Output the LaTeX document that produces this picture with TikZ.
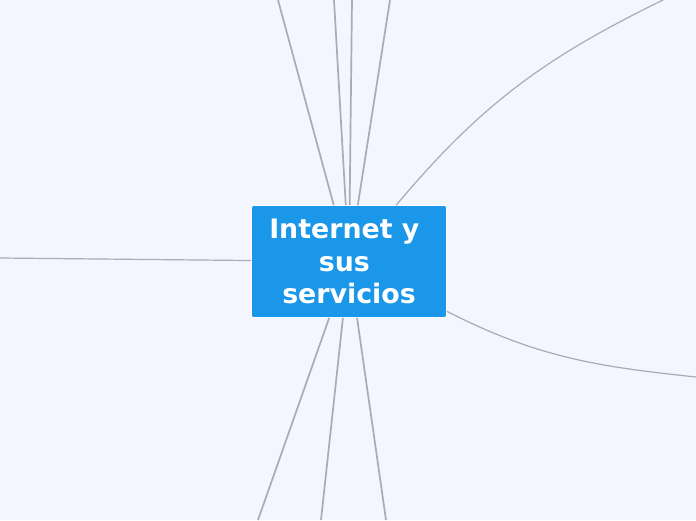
\documentclass[tikz,border=0pt]{standalone}
\usepackage{fontspec}
\usepackage{tikz}
\newfontfamily\mapfont{DejaVu Sans}
\definecolor{paper}{HTML}{F3F6FE}
\definecolor{topicblue}{HTML}{1A97E8}
\definecolor{branch}{HTML}{A9ACB3}

\begin{document}
\begin{tikzpicture}[x=1pt,y=-1pt,style=thick]
\newcommand{\tsp}{\ \null}
\fill[paper] (0,0) rectangle (696,520);
\useasboundingbox (0,0) rectangle (696,520);
\begin{scope}[draw=branch]
% central topic
\node[fill=topicblue,draw=white,line width=0.6pt,rounded corners=2.5pt,
  minimum width=195pt,minimum height=112pt,align=center,text=white,
  font=\mapfont\bfseries\fontsize{26.8}{32.5}\selectfont] (hub) at (349,261.5)
  {Internet y\tsp\\sus\tsp\\servicios};
% free ends on the border
\coordinate (T_1) at (278,0);
\coordinate (T_2) at (334,0);
\coordinate (T_3) at (352,0);
\coordinate (T_4) at (390,0);
\coordinate (TR) at (663,0);
\coordinate (L_1) at (0,258);
\coordinate (R_1) at (696,377);
\coordinate (B_1) at (258,520);
\coordinate (B_2) at (321,520);
\coordinate (B_3) at (386,520);
\draw [line width=1.7pt] (hub) -- (T_1);
\draw [line width=1.7pt] (hub) -- (T_2);
\draw [line width=1.7pt] (hub) -- (T_3);
\draw [line width=1.7pt] (hub) -- (T_4);
\draw [line width=1.7pt] (hub) -- (B_1);
\draw [line width=1.7pt] (hub) -- (B_2);
\draw [line width=1.7pt] (hub) -- (B_3);
\draw [line width=1.2pt] (hub) -- (L_1);
\draw [line width=1.2pt] (hub) to[out=50,in=206] (TR);
\draw [line width=1.2pt] (hub) to[out=-27,in=174] (R_1);
\end{scope}
\end{tikzpicture}
\end{document}
